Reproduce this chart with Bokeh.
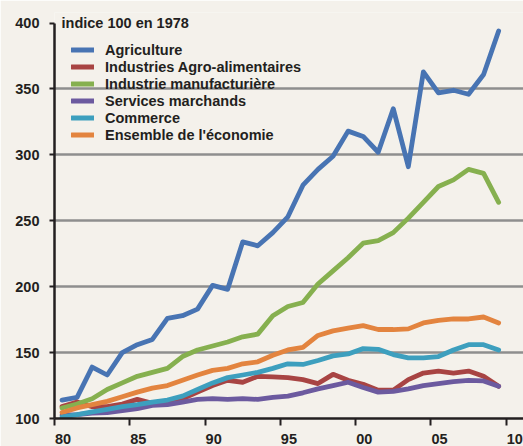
from bokeh.plotting import figure
from bokeh.models import FixedTicker, Legend, LegendItem, Label, Range1d
from bokeh.embed import file_html
from bokeh.resources import INLINE

# ---- data ----
years = list(range(1980, 2010))
agriculture = [114, 116, 139, 133, 150, 156, 160, 176, 178, 183, 201, 198, 234, 231, 241,
               253, 277, 289, 299, 318, 314, 302, 335, 291, 363, 347, 349, 346, 361, 394]
iaa = [109, 112.5, 109, 109, 111, 114.5, 111.5, 112, 115, 120, 125, 129, 127.5, 132, 131.5,
       131, 129.5, 126.5, 133.5, 129, 126, 121.5, 121.5, 129.5, 134.5, 136, 134.5, 136, 132, 124.5]
industrie = [108, 111, 115, 122, 127, 132, 135, 138, 147, 152, 155, 158, 162, 164, 178,
             185, 188, 202, 212, 222, 233, 235, 241, 252, 264, 276, 281, 289, 286, 264]
services = [102.5, 103, 104, 104.5, 106, 107.5, 110, 110.5, 112.5, 114.5, 115, 114.5, 115, 114.5, 116,
            117, 119.5, 122.5, 125, 127.5, 123.5, 120, 120.5, 122.5, 125, 126.5, 128, 129, 128.5, 124.5]
commerce = [101, 103, 105, 107, 109, 110.5, 112.5, 114, 117, 122, 127, 131, 133, 135, 138,
            141.5, 141, 144, 147.5, 149, 153, 152.5, 148.5, 146, 146, 147, 152, 156, 156, 152]
ensemble = [104.5, 108, 110.5, 113, 116.5, 120, 123, 125, 129, 133, 136.5, 138, 141.5, 143, 148,
            152, 154, 163, 166.5, 168.5, 170.5, 167.5, 167.5, 168, 172.5, 174.5, 175.5, 175.5, 177, 172.5]

series_names = ["Agriculture", "Industries Agro-alimentaires", "Industrie manufacturière",
                "Services marchands", "Commerce", "Ensemble de l'économie"]
series_values = [agriculture, iaa, industrie, services, commerce, ensemble]
colors = ["#4874b3", "#a84443", "#86b04f", "#6c5a9f", "#3d9fbe", "#e3843f"]

x_tick_years = [1980, 1985, 1990, 1995, 2000, 2005, 2010]
x_tick_labels = ["80", "85", "90", "95", "00", "05", "10"]
y_ticks = [100, 150, 200, 250, 300, 350, 400]
y_grid = [150, 200, 250, 300, 350]
title_text = "indice 100 en 1978"

BG = "#f4f1eb"
INK = "#231f20"
FONT = "Liberation Sans"

xs = [y + 0.5 for y in years]

p = figure(width=523, height=446,
           x_range=Range1d(1980, 2011.15), y_range=Range1d(100, 408),
           output_backend="svg", toolbar_location=None,
           min_border_left=54, min_border_right=0, min_border_top=12, min_border_bottom=28)
p.background_fill_color = BG
p.border_fill_color = BG
p.outline_line_color = None

renderers = {}
draw_order = [0, 1, 2, 3, 5, 4]
for i in draw_order:
    r = p.line(xs, series_values[i], line_color=colors[i], line_width=4.8,
               line_join="round", line_cap="round")
    renderers[i] = r

# x axis: visible ticks at year boundaries (minor), labels just right of them (major)
label_pos = [y + 0.57 for y in x_tick_years]
p.xaxis.ticker = FixedTicker(ticks=label_pos, minor_ticks=x_tick_years)
p.xaxis.major_label_overrides = {pos: lab for pos, lab in zip(label_pos, x_tick_labels)}
p.xaxis.major_tick_line_color = None
p.xaxis.major_tick_out = 0
p.xaxis.major_tick_in = 0
p.xaxis.minor_tick_out = 7
p.xaxis.minor_tick_in = 0
p.xaxis.minor_tick_line_color = INK
p.xaxis.minor_tick_line_width = 2
p.xaxis.axis_line_color = INK
p.xaxis.axis_line_width = 2.5
p.xaxis.major_label_standoff = 8
p.xaxis.major_label_text_font = FONT
p.xaxis.major_label_text_font_style = "bold"
p.xaxis.major_label_text_font_size = "14.5px"
p.xaxis.major_label_text_color = INK
p.xgrid.visible = False

p.yaxis.ticker = FixedTicker(ticks=y_ticks)
p.yaxis.bounds = (100, 400)
p.yaxis.major_tick_out = 5
p.yaxis.major_tick_in = 0
p.yaxis.major_tick_line_color = INK
p.yaxis.major_tick_line_width = 2
p.yaxis.minor_tick_line_color = None
p.yaxis.axis_line_color = INK
p.yaxis.axis_line_width = 2.5
p.yaxis.major_label_standoff = 10
p.yaxis.major_label_text_font = FONT
p.yaxis.major_label_text_font_style = "bold"
p.yaxis.major_label_text_font_size = "14.5px"
p.yaxis.major_label_text_color = INK
p.ygrid.ticker = FixedTicker(ticks=y_grid)
p.ygrid.grid_line_color = "#8e8e8e"
p.ygrid.grid_line_width = 2.5

legend = Legend(items=[LegendItem(label=series_names[i], renderers=[renderers[i]]) for i in range(6)],
                location=(17, 275), margin=0, padding=7, spacing=0,
                glyph_width=23, glyph_height=17, label_height=17, label_standoff=11,
                label_text_font=FONT, label_text_font_style="bold",
                label_text_font_size="14.5px", label_text_color=INK,
                background_fill_alpha=0, border_line_color=None)
p.add_layout(legend)

p.add_layout(Label(x=1980, y=400, x_offset=7, text=title_text, text_baseline="middle",
                   text_font=FONT, text_font_style="bold", text_font_size="14.5px",
                   text_color=INK))

open("out.html", "w").write(file_html(p, INLINE))
